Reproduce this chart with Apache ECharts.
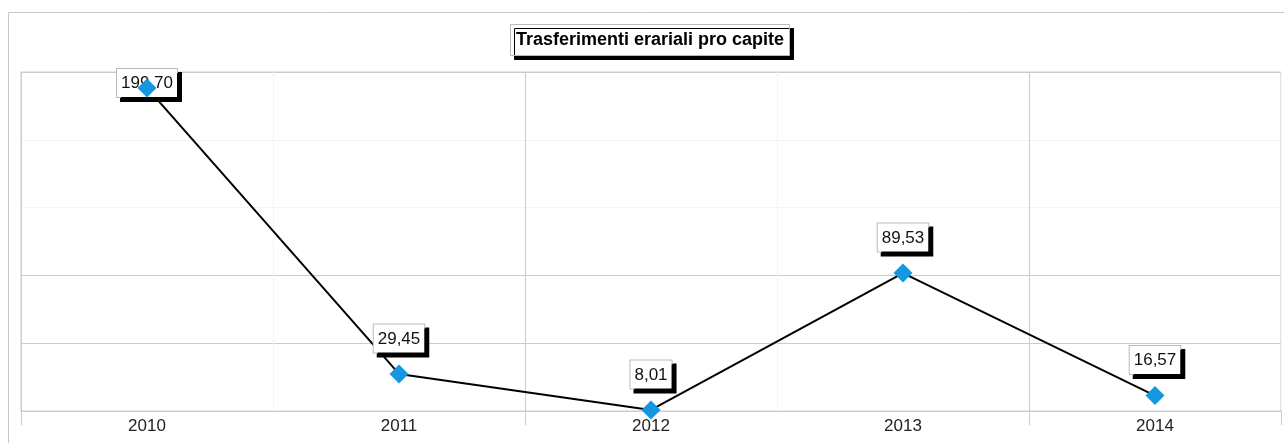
<!DOCTYPE html>
<html>
<head>
<meta charset="utf-8">
<script src="https://cdn.jsdelivr.net/npm/echarts@6/dist/echarts.min.js"></script>
<style>html,body{margin:0;padding:0;background:#fff;}#c{width:1284px;height:443px;}</style>
</head>
<body>
<div id="c"></div>
<script>
const titleText = 'Trasferimenti erariali pro capite';
const categories = ['2010', '2011', '2012', '2013', '2014'];
const values = [199.70, 29.45, 8.01, 89.53, 16.57];
const yMin = 7.4, yMax = 209.2;

const fmt = p => Number(p.value).toFixed(2).replace('.', ',');
const labelBase = {
  show: true, position: 'top', distance: 21,
  formatter: fmt,
  fontFamily: 'Liberation Sans', fontSize: 17, color: '#111',
  backgroundColor: '#fff', borderColor: '#bbb', borderWidth: 1,
  padding: [6, 4, 5, 4],
  shadowColor: '#000', shadowOffsetX: 4, shadowOffsetY: 4, shadowBlur: 0
};
const lineData = values.map((v, i) => i === 0
  ? { value: v, label: { position: 'inside', offset: [0, -5] } }
  : v);

const chart = echarts.init(document.getElementById('c'), null, { renderer: 'canvas' });
chart.setOption({
  animation: false,
  backgroundColor: '#fff',
  graphic: [{
    type: 'rect', z: -10, silent: true,
    shape: { x: 8.5, y: 12.5, width: 1400, height: 600 },
    style: { fill: '#fff', stroke: '#c8c8c8', lineWidth: 1 }
  }],
  title: {
    text: titleText, left: 510, top: 24,
    padding: [7, 6, 7, 6],
    backgroundColor: '#fff', borderColor: '#bbb', borderWidth: 1,
    shadowColor: '#000', shadowOffsetX: 4, shadowOffsetY: 4, shadowBlur: 0,
    textStyle: { fontFamily: 'Liberation Sans', fontSize: 18, fontWeight: 'bold', color: '#000' }
  },
  grid: { left: 21, right: 3, top: 72, bottom: 32, show: true, borderColor: '#ccc', borderWidth: 1, backgroundColor: 'transparent' },
  xAxis: {
    type: 'category', data: categories, boundaryGap: true,
    axisLine: { show: true, lineStyle: { color: '#ccc', width: 1 } },
    axisTick: { show: true, interval: 1, length: 14, lineStyle: { color: '#ccc' } },
    axisLabel: { interval: 0, margin: 7, fontFamily: 'Liberation Sans', fontSize: 17, color: '#222' },
    splitLine: { show: true, interval: 0, lineStyle: { color: ['#ccc', '#f3f3f3'], width: 1 } }
  },
  yAxis: {
    type: 'value', min: yMin, max: yMax, interval: (yMax - yMin) / 5,
    axisLine: { show: false }, axisTick: { show: false }, axisLabel: { show: false },
    splitLine: { show: true, lineStyle: { color: ['#ccc', '#ccc', '#ccc', '#f4f4f4', '#f4f4f4', '#ccc'], width: 1 } }
  },
  series: [
    {
      type: 'line', data: lineData, z: 2,
      symbol: 'circle', symbolSize: 1, showSymbol: true,
      itemStyle: { color: 'rgba(0,0,0,0)' },
      lineStyle: { color: '#000', width: 2 },
      label: labelBase
    },
    {
      type: 'scatter', data: values, z: 5,
      symbol: 'diamond', symbolSize: 19,
      itemStyle: { color: '#1596e0', opacity: 1 }
    }
  ]
});
</script>
</body>
</html>
